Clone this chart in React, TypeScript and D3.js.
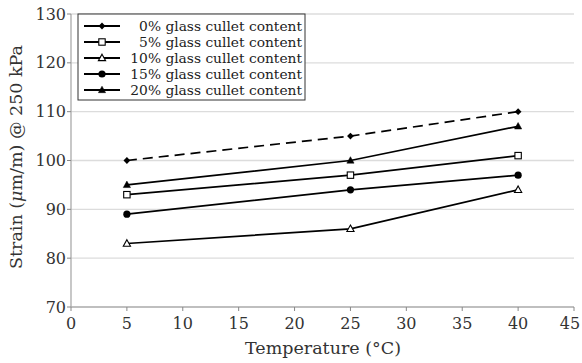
import React from "react";
import * as d3 from "d3";

const temps = [5, 25, 40];
const seriesNames = [
  "0% glass cullet content",
  "5% glass cullet content",
  "10% glass cullet content",
  "15% glass cullet content",
  "20% glass cullet content",
];
const s0 = [100, 105, 110];
const s5 = [93, 97, 101];
const s10 = [83, 86, 94];
const s15 = [89, 94, 97];
const s20 = [95, 100, 107];
const seriesValues = [s0, s5, s10, s15, s20];
const markers = ["diamond", "square", "triangleOpen", "circle", "triangle"];
const dashed = [true, false, false, false, false];
const xTicks = [0, 5, 10, 15, 20, 25, 30, 35, 40, 45];
const yTicks = [70, 80, 90, 100, 110, 120, 130];

const W = 582, H = 363;
const font = "'DejaVu Serif', serif";

function Marker({ type, x, y }: { type: string; x: number; y: number }) {
  if (type === "diamond") {
    const r = 3.4;
    return <path d={`M${x},${y - r}L${x + r},${y}L${x},${y + r}L${x - r},${y}Z`} fill="#000" />;
  }
  if (type === "square") {
    return <rect x={x - 3.2} y={y - 3.2} width={6.4} height={6.4} fill="#fff" stroke="#000" strokeWidth={1.1} />;
  }
  if (type === "circle") {
    return <circle cx={x} cy={y} r={3.6} fill="#000" />;
  }
  const open = type === "triangleOpen";
  const r = 3.8;
  const d = `M${x},${y - r}L${x + r * 0.95},${y + r * 0.7}L${x - r * 0.95},${y + r * 0.7}Z`;
  return <path d={d} fill={open ? "#fff" : "#000"} stroke="#000" strokeWidth={open ? 1.1 : 0.5} />;
}

export default function App() {
  const x = d3.scaleLinear().domain([0, 45]).range([71, 574]);
  const y = d3.scaleLinear().domain([70, 130]).range([307, 14]);
  const line = d3
    .line<number>()
    .x((_, i) => x(temps[i]))
    .y((d) => y(d));

  const lgX = 78, lgY = 14, lgW = 227, lgH = 86;
  const rowH = 16;

  return (
    <svg width={W} height={H} style={{ position: "absolute", left: 0, top: 0, background: "#fff" }}>
      {yTicks.map((t) =>
        t > 70 ? (
          <line key={"g" + t} x1={x(0)} x2={x(45)} y1={y(t)} y2={y(t)} stroke="#dcdcdc" strokeWidth={1.3} />
        ) : null
      )}
      <line x1={x(0)} x2={x(0)} y1={y(130)} y2={y(70)} stroke="#aaa" strokeWidth={1.3} />
      <line x1={x(0)} x2={x(45)} y1={y(70)} y2={y(70)} stroke="#aaa" strokeWidth={1.3} />
      {yTicks.map((t) => (
        <g key={"y" + t}>
          <line x1={x(0) - 4} x2={x(0)} y1={y(t)} y2={y(t)} stroke="#888" />
          <text x={x(0) - 5} y={y(t) + 5.5} textAnchor="end" fontFamily={font} fontSize={16} fill="#333">
            {t}
          </text>
        </g>
      ))}
      {xTicks.map((t) => (
        <g key={"x" + t}>
          <line x1={x(t)} x2={x(t)} y1={y(70)} y2={y(70) + 4} stroke="#888" />
          <text
            x={t === 45 ? x(t) - 4 : x(t)}
            y={y(70) + 22}
            textAnchor="middle"
            fontFamily={font}
            fontSize={16}
            fill="#333"
          >
            {t}
          </text>
        </g>
      ))}
      <text x={323} y={354} textAnchor="middle" fontFamily={font} fontSize={17.5} fill="#333">
        Temperature (°C)
      </text>
      <text
        transform={`translate(22,157) rotate(-90)`}
        textAnchor="middle"
        fontFamily={font}
        fontSize={17.5}
        fill="#333"
      >
        Strain (<tspan fontStyle="italic">μ</tspan>m/m) @ 250 kPa
      </text>

      {seriesValues.map((vals, i) => (
        <g key={"s" + i}>
          <path
            d={line(vals) || ""}
            fill="none"
            stroke="#000"
            strokeWidth={1.7}
            strokeDasharray={dashed[i] ? "10,6" : undefined}
          />
          {vals.map((v, j) => (
            <Marker key={j} type={markers[i]} x={x(temps[j])} y={y(v)} />
          ))}
        </g>
      ))}

      <rect x={lgX} y={lgY} width={lgW} height={lgH} fill="#fff" stroke="#333" strokeWidth={1} />
      {seriesNames.map((n, i) => {
        const cy = lgY + 12 + i * rowH;
        return (
          <g key={"l" + i}>
            <line x1={lgX + 6} x2={lgX + 42} y1={cy} y2={cy} stroke="#000" strokeWidth={1.8} />
            <Marker type={markers[i]} x={lgX + 24} y={cy} />
            <text x={lgX + lgW - 3} y={cy + 5} textAnchor="end" fontFamily={font} fontSize={13.8} fill="#222">
              {n}
            </text>
          </g>
        );
      })}
    </svg>
  );
}
